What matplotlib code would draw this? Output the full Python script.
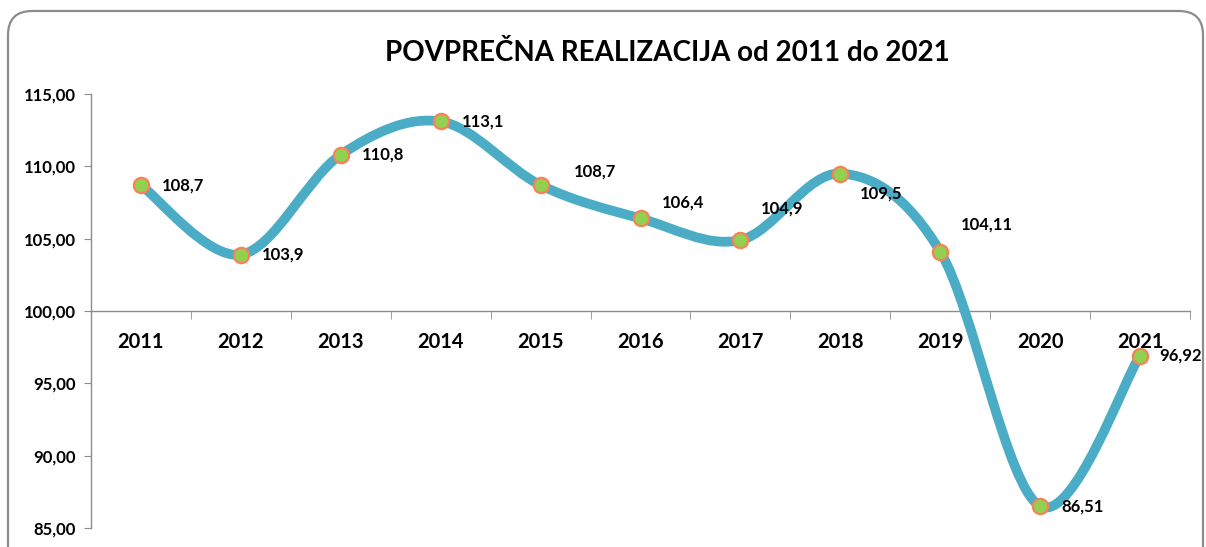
import numpy as np
import matplotlib
matplotlib.use("Agg")
import matplotlib.pyplot as plt
from matplotlib.path import Path
from matplotlib.patches import PathPatch, FancyBboxPatch

years = ["2011", "2012", "2013", "2014", "2015", "2016", "2017", "2018", "2019", "2020", "2021"]
values = [108.7, 103.9, 110.8, 113.1, 108.7, 106.4, 104.9, 109.5, 104.11, 86.51, 96.92]
labels = ["108,7", "103,9", "110,8", "113,1", "108,7", "106,4", "104,9", "109,5", "104,11", "86,51", "96,92"]
# label offsets in pixels (dx, dy up)
label_offsets = [(21, 0), (21, 0), (21, 0), (21, 0), (33, 14), (21, 16), (20, 32),
                 (20, -20), (21, 27), (21, 0), (19, 0)]
yticks = [85, 90, 95, 100, 105, 110, 115]

plt.rcParams['font.family'] = ['Lato', 'DejaVu Sans']

W, H = 1206, 547
fig = plt.figure(figsize=(W / 100, H / 100), dpi=100)

# rounded chart frame
frame = FancyBboxPatch((8 / W, -30 / H), 1195 / W, (H - 11 + 30) / H,
                       boxstyle="round,pad=0,rounding_size=0.02",
                       transform=fig.transFigure, facecolor='white',
                       edgecolor='#8c8c8c', linewidth=1.6, mutation_aspect=W / H,
                       zorder=-1)
fig.patches.append(frame)

ax = fig.add_axes([91 / W, 1 - 528 / H, (1190 - 91) / W, (528 - 94) / H])
ax.set_facecolor('none')
ax.set_zorder(2)

x = np.arange(len(values))
y = np.array(values)

# Excel-style smoothed line: cubic bezier with Catmull-Rom control points
verts = [(x[0], y[0])]
codes = [Path.MOVETO]
n = len(x)
for i in range(n - 1):
    p0 = (x[i - 1], y[i - 1]) if i > 0 else (x[i], y[i])
    p1 = (x[i], y[i])
    p2 = (x[i + 1], y[i + 1])
    p3 = (x[i + 2], y[i + 2]) if i + 2 < n else (x[i + 1], y[i + 1])
    c1 = (p1[0] + (p2[0] - p0[0]) / 6, p1[1] + (p2[1] - p0[1]) / 6)
    c2 = (p2[0] - (p3[0] - p1[0]) / 6, p2[1] - (p3[1] - p1[1]) / 6)
    verts += [c1, c2, p2]
    codes += [Path.CURVE4] * 3
ax.add_patch(PathPatch(Path(verts, codes), facecolor='none', edgecolor='#4bacc6',
                       linewidth=7, capstyle='round', joinstyle='round', zorder=3))

ax.plot(x, y, linestyle='none', marker='o', markersize=11,
        markerfacecolor='#92d050', markeredgecolor='#f7825a', markeredgewidth=1.6, zorder=4)

for xi, yi, lab, (dx, dy) in zip(x, y, labels, label_offsets):
    ax.annotate(lab, (xi, yi), xytext=(dx * 0.72, dy * 0.72), textcoords='offset points',
                ha='left', va='center', fontsize=12, fontweight='bold', color='black', zorder=5)

ax.set_xlim(-0.5, len(values) - 0.5)
ax.set_ylim(85, 115)

ax.spines['top'].set_visible(False)
ax.spines['right'].set_visible(False)
ax.spines['bottom'].set_position(('data', 100))
for s in ('left', 'bottom'):
    ax.spines[s].set_color('#8c8c8c')
    ax.spines[s].set_linewidth(1.0)

ax.set_yticks(yticks)
ax.set_yticklabels([f"{v:.2f}".replace('.', ',') for v in yticks],
                   fontsize=12, fontweight='bold')
ax.tick_params(axis='y', direction='out', length=5, color='#8c8c8c', pad=6)

ax.set_xticks(x)
ax.set_xticklabels(years, fontsize=14.5, fontweight='bold')
ax.tick_params(axis='x', which='major', length=0, pad=15)
ax.set_xticks(np.arange(-0.5, len(values)), minor=True)
ax.tick_params(axis='x', which='minor', direction='out', length=6, color='#8c8c8c')

fig.text(667 / W, 1 - 53 / H, "POVPREČNA REALIZACIJA od 2011 do 2021",
         ha='center', va='center', fontsize=20, fontweight='bold')

fig.savefig("out.png", dpi=100)
